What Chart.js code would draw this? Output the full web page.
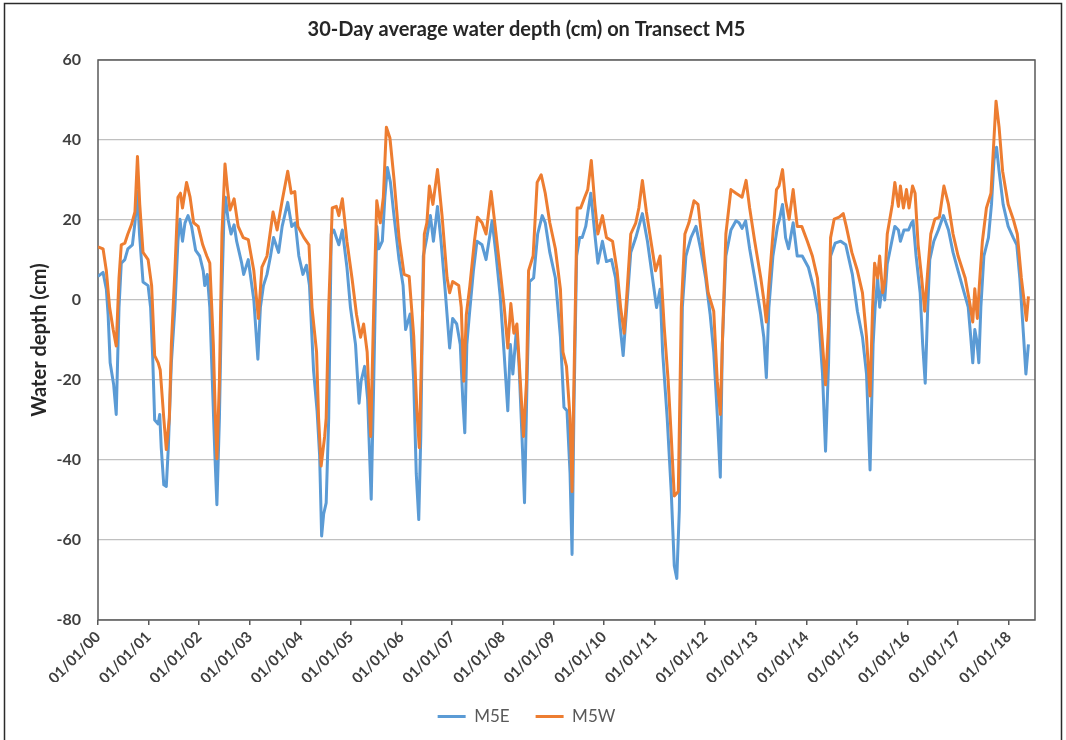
<!DOCTYPE html>
<html>
<head>
<meta charset="utf-8">
<title>30-Day average water depth on Transect M5</title>
<script src="https://cdn.jsdelivr.net/npm/chart.js@4.4.1/dist/chart.umd.min.js"></script>
<style>
  html, body { margin: 0; padding: 0; background: #fff; }
  #wrap { position: relative; width: 1066px; height: 740px; }
</style>
</head>
<body>
<div id="wrap"><canvas id="myChart" width="1066" height="740"></canvas></div>
<script>
// years since 01/01/2000
const tickLabels = ['01/01/00','01/01/01','01/01/02','01/01/03','01/01/04','01/01/05','01/01/06',
  '01/01/07','01/01/08','01/01/09','01/01/10','01/01/11','01/01/12','01/01/13','01/01/14',
  '01/01/15','01/01/16','01/01/17','01/01/18'];
const yTicks = [-80, -60, -40, -20, 0, 20, 40, 60];

const m5eYears = [0.00,0.10,0.165,0.20,0.24,0.31,0.36,0.415,0.46,0.53,0.59,0.68,0.73,0.78,0.82,0.89,0.99,
  1.04,1.08,1.12,1.19,1.22,1.25,1.30,1.35,1.39,1.45,1.52,1.58,1.62,1.67,1.72,1.78,1.85,1.93,
  2.01,2.08,2.11,2.16,2.21,2.26,2.31,2.35,2.40,2.44,2.49,2.52,2.57,2.63,2.69,2.74,2.84,2.88,2.97,
  3.08,3.16,3.21,3.27,3.34,3.41,3.47,3.57,3.64,3.75,3.83,3.90,3.97,
  4.05,4.12,4.18,4.26,4.33,4.38,4.42,4.46,4.51,4.56,4.61,4.66,4.76,4.83,4.92,4.99,
  5.09,5.16,5.20,5.27,5.33,5.40,5.45,5.51,5.55,5.62,5.67,5.72,5.78,5.85,5.95,
  6.03,6.08,6.17,6.24,6.29,6.34,6.38,6.43,6.50,6.57,6.63,6.71,6.78,6.86,6.95,
  7.01,7.09,7.16,7.21,7.25,7.29,7.34,7.42,7.49,7.59,7.67,7.79,7.87,7.95,
  8.03,8.10,8.15,8.20,8.27,8.32,8.38,8.43,8.48,8.53,8.61,8.69,8.78,8.84,8.93,
  9.04,9.14,9.21,9.27,9.33,9.37,9.41,9.46,9.52,9.57,9.64,9.74,9.82,9.88,9.97,
  10.05,10.15,10.23,10.32,10.38,10.45,10.53,10.63,10.76,10.86,10.96,
  11.04,11.11,11.16,11.25,11.33,11.39,11.44,11.49,11.55,11.62,11.72,11.82,11.91,
  12.01,12.10,12.17,12.24,12.30,12.34,12.41,12.51,12.61,12.67,12.73,12.80,12.88,12.98,
  13.10,13.16,13.21,13.26,13.34,13.43,13.47,13.53,13.59,13.65,13.74,13.82,13.92,
  14.04,14.15,14.24,14.32,14.38,14.44,14.48,14.57,14.68,14.78,14.91,
  15.01,15.11,15.19,15.26,15.32,15.36,15.41,15.45,15.51,15.55,15.60,15.69,15.75,15.82,15.86,15.93,
  16.02,16.08,16.11,16.17,16.25,16.30,16.35,16.40,16.44,16.52,16.61,16.71,16.81,16.90,
  17.00,17.10,17.20,17.25,17.29,17.33,17.37,17.41,17.45,17.51,17.60,17.66,17.71,17.76,17.81,17.89,17.99,
  18.09,18.16,18.22,18.29,18.34,18.39];
const m5eDepth = [5.9,6.9,2.7,-3.7,-15.7,-21.2,-28.6,-1.9,9.2,10.1,12.8,13.8,19.3,27.1,16.5,4.5,3.6,
  -1.9,-13.9,-30,-31,-28.6,-36.9,-46.2,-46.6,-36.9,-15.7,-1.9,14.7,20.2,14.7,19.3,21.1,18.4,12.4,
  11,7.3,3.6,6.4,-1.9,-20.3,-38.7,-51.2,-29.5,-1.9,21.1,25.7,20.2,16.5,18.8,14.7,9.2,6.4,10.1,
  0,-14.8,-1.8,3.6,6.4,11,15.6,11.9,18.4,24.4,18.4,19.3,11,
  6.4,8.7,3.6,-17.5,-27.7,-38.7,-59,-53.5,-50.7,-29.5,16.5,17.5,13.8,17.5,8.2,-1.9,
  -11.1,-25.8,-20.3,-16.6,-24.9,-49.8,-20.3,18.4,12.8,14.7,25.7,33.1,29.4,21.1,10.1,
  3.6,-7.4,-3.5,-20.3,-43.3,-54.9,-34.1,11,15.6,21.1,14.7,23.4,14.7,2.7,-12,
  -4.6,-6,-11.1,-24.9,-33.2,-11.1,-3.7,7.3,14.7,13.8,10.1,19.8,11,0.9,
  -13.9,-27.7,-11.1,-18.5,-7.4,-15.7,-34.1,-50.7,-20.3,4.6,5.5,16.5,21.1,19.3,11.9,
  5.5,-9.3,-26.8,-27.7,-43.3,-63.6,-25,11,15.6,15.6,18.4,26.7,16.5,9.2,14.7,
  9.6,10.1,5.5,-6.5,-13.9,-1.9,11.9,15.6,21.6,14.7,5.5,
  -1.9,2.7,-13,-29.5,-47.9,-66.4,-69.6,-52.5,-1.8,11,15.6,18.4,12.8,
  5.5,-3.7,-13,-28.6,-44.3,-11.1,11,17.5,19.8,19.3,17.9,19.8,12.8,5.5,
  -3.7,-9.3,-19.4,-1.9,11,18.4,20.2,23.9,15.6,12.8,19.3,11,11,
  8.2,2.7,-3.7,-18.5,-37.8,-15.7,11,14.2,14.7,13.8,6.4,
  -2.8,-9.3,-18.5,-42.5,-11.1,-1.8,5.5,-1.8,4.5,0,9,14.7,18.4,17.5,14.7,17.5,
  17.5,19.3,19.8,11,1.8,-11.1,-20.8,-1.8,10.1,14.7,17.5,21.1,17.5,11.9,
  7.3,2.7,-1.8,-9.3,-15.7,-7.4,-10.2,-15.7,-1.8,11,15.6,23.9,35,38.2,32.2,23.9,18.4,
  15.6,13.8,5.5,-8.3,-18.5,-11.1];

const m5wYears = [0.00,0.10,0.165,0.23,0.30,0.36,0.415,0.46,0.53,0.59,0.66,0.73,0.78,0.825,0.89,0.99,
  1.06,1.12,1.19,1.23,1.30,1.35,1.41,1.45,1.52,1.58,1.63,1.67,1.75,1.82,1.89,1.98,
  2.07,2.15,2.21,2.28,2.32,2.35,2.40,2.45,2.51,2.56,2.61,2.69,2.77,2.87,2.97,
  3.08,3.17,3.24,3.34,3.46,3.54,3.64,3.75,3.82,3.89,3.95,
  4.07,4.17,4.23,4.32,4.36,4.41,4.48,4.51,4.56,4.63,4.71,4.76,4.83,4.92,
  5.02,5.11,5.19,5.25,5.32,5.39,5.45,5.51,5.58,5.64,5.70,5.77,5.85,5.95,
  6.05,6.15,6.24,6.30,6.35,6.40,6.45,6.50,6.55,6.62,6.71,6.80,6.90,6.95,
  7.01,7.13,7.18,7.23,7.28,7.35,7.44,7.50,7.59,7.67,7.77,7.85,7.95,
  8.03,8.10,8.16,8.22,8.28,8.33,8.41,8.47,8.51,8.60,8.68,8.76,8.84,8.93,
  9.04,9.14,9.19,9.26,9.33,9.37,9.42,9.47,9.54,9.62,9.68,9.75,9.82,9.88,9.97,
  10.05,10.17,10.26,10.33,10.40,10.46,10.53,10.63,10.69,10.76,10.84,10.94,
  11.02,11.11,11.19,11.27,11.33,11.39,11.47,11.53,11.60,11.68,11.78,11.86,11.95,
  12.06,12.17,12.24,12.30,12.34,12.41,12.51,12.61,12.67,12.73,12.81,12.88,12.98,
  13.10,13.16,13.21,13.26,13.34,13.41,13.46,13.53,13.59,13.66,13.74,13.82,13.91,
  14.02,14.12,14.22,14.31,14.38,14.44,14.48,14.55,14.65,14.73,14.79,14.90,
  15.01,15.11,15.19,15.26,15.31,15.35,15.41,15.45,15.51,15.55,15.60,15.70,15.75,15.82,15.86,15.92,15.98,
  16.03,16.10,16.15,16.21,16.28,16.34,16.40,16.46,16.54,16.63,16.72,16.81,16.90,
  17.00,17.14,17.22,17.29,17.33,17.38,17.42,17.48,17.56,17.65,17.71,17.75,17.81,17.88,17.99,
  18.09,18.17,18.25,18.32,18.35,18.39];
const m5wDepth = [13.3,12.8,7.3,-1.9,-7.4,-11.5,5.5,13.8,14.2,16.5,18.8,22,35.9,23.9,11.9,10.1,
  3.6,-13.9,-15.7,-17.5,-29.5,-37.4,-29.5,-11.1,7.3,25.7,26.7,23,29.4,25.7,19.3,18.4,
  13.8,11,9.2,-11.1,-29.5,-39.7,-20.3,16.5,34,27.6,22.5,25.3,18.4,15.6,15.1,
  7.3,-4.6,8.2,11,22,17.5,24.8,32.2,26.7,27.1,18.4,
  15.6,13.8,-1.9,-13,-29.5,-41.5,-34.1,-29.5,-1.9,23,23.4,21.1,25.3,14.7,
  5.5,-3.7,-9.3,-6,-13,-34.1,-1.8,24.8,19.3,25.7,43.2,40.5,30.3,15.6,
  6.4,5.9,-9,-27,-36.9,-11.1,16.5,19.3,28.5,23.9,32.6,21.1,5.5,1.8,
  4.6,3.6,-1.9,-20.3,-3.7,3.6,14.7,20.7,19.3,16.5,27.1,18.4,7.3,
  -1.9,-12,-0.9,-8.3,-6,-16.6,-34.1,-20.3,7.3,11,29.4,31.3,26.7,19.3,
  12.8,2.7,-13,-16.6,-29.5,-47.9,-11.1,23,23,25.7,27.6,34.9,23.9,16.5,21.1,
  15.6,14.7,7.3,-1.9,-8.3,2.7,16.5,19.3,23,29.9,22,13.8,
  7.3,11,-6.5,-20.3,-34.1,-49,-47.9,-1.9,16.5,19.3,24.8,23.9,13.8,
  1.8,-2.8,-20.3,-28.6,-11.1,16.5,27.6,26.7,26.2,25.7,29.9,23,14.7,
  5.5,0,-5.5,3.6,16.5,27.6,28.5,32.6,24.8,20.2,27.6,18.4,18.4,
  14.7,11,5.5,-9.3,-21.2,-6.4,15.6,20.2,20.7,21.6,18.4,11.9,
  7.3,1.8,-9.3,-24,-1.8,9.2,5.5,11,1.8,4.6,16.5,23.9,29.4,23.4,28.5,23,27.6,
  23,28.5,26.7,13.8,5.5,-2.8,7.3,16.5,20.2,20.7,28.5,23.9,16.5,
  11,5.5,0,-5.5,2.8,-4.6,3.6,14.7,23,26.7,40.5,49.7,43.2,32.2,23.9,
  20.2,16.5,5.5,-1.8,-5.1,0.9];

const seriesNames = ['M5E', 'M5W'];
const seriesColors = ['#5B9BD5', '#ED7D31'];

function toPoints(xs, ys) {
    return xs.map(function (x, i) { return {x: x, y: ys[i]}; });
}

// plot-area box and outer chart frame
const frames = {
    id: 'frames',
    beforeDatasetsDraw(chart) {
        const ctx = chart.ctx;
        const a = chart.chartArea;
        ctx.save();
        ctx.strokeStyle = '#595959';
        ctx.lineWidth = 1.5;
        ctx.strokeRect(a.left, a.top, a.right - a.left, a.bottom - a.top);
        ctx.restore();
    },
    afterDraw(chart) {
        const ctx = chart.ctx;
        ctx.save();
        ctx.strokeStyle = '#2b2b2b';
        ctx.lineWidth = 1.5;
        ctx.beginPath();
        ctx.moveTo(4.5, 745);
        ctx.lineTo(4.5, 3.5);
        ctx.lineTo(1061.5, 3.5);
        ctx.lineTo(1061.5, 745);
        ctx.stroke();
        ctx.restore();
    }
};

function displayChart() {
    let myChart = document.getElementById('myChart').getContext('2d');
    let lineChart = new Chart(myChart, {
        type: 'line',
        data: {
            datasets: [{
                label: seriesNames[0],
                data: toPoints(m5eYears, m5eDepth),
                borderColor: seriesColors[0],
                backgroundColor: seriesColors[0],
                borderWidth: 3,
                pointRadius: 0,
                tension: 0,
                borderJoinStyle: 'round',
                order: 2
            }, {
                label: seriesNames[1],
                data: toPoints(m5wYears, m5wDepth),
                borderColor: seriesColors[1],
                backgroundColor: seriesColors[1],
                borderWidth: 3,
                pointRadius: 0,
                tension: 0,
                borderJoinStyle: 'round',
                order: 1
            }]
        },
        options: {
            responsive: false,
            animation: false,
            events: [],
            layout: { padding: { left: 18, right: 31, top: 0, bottom: 5 } },
            plugins: {
                title: {
                    display: true,
                    text: '30-Day average water depth (cm) on Transect M5',
                    color: '#262626',
                    font: { family: 'Lato', size: 20, weight: 'bold' },
                    padding: { top: 18, bottom: 18 }
                },
                legend: {
                    display: true,
                    position: 'bottom',
                    labels: {
                        usePointStyle: true,
                        pointStyle: 'line',
                        pointStyleWidth: 28,
                        padding: 26,
                        color: '#595959',
                        font: { family: 'Lato', size: 17 },
                        sort: function (a, b) { return a.datasetIndex - b.datasetIndex; }
                    }
                },
                tooltip: { enabled: false }
            },
            scales: {
                x: {
                    type: 'linear',
                    min: 0,
                    max: 18.52,
                    afterFit: function (s) { s.height = 62; },
                    afterBuildTicks: function (s) {
                        s.ticks = s.ticks.filter(function (t) { return Number.isInteger(t.value); });
                    },
                    border: { display: false },
                    grid: { drawOnChartArea: false, drawTicks: true, tickLength: 5, tickColor: '#595959', lineWidth: 1.5 },
                    ticks: {
                        stepSize: 1,
                        autoSkip: false,
                        minRotation: 45,
                        maxRotation: 45,
                        padding: 3,
                        color: '#404040',
                        font: { family: 'Lato', size: 15, weight: 'bold' },
                        callback: function (v) { return tickLabels[v]; }
                    }
                },
                y: {
                    min: yTicks[0],
                    max: yTicks[yTicks.length - 1],
                    afterFit: function (s) { s.width = 80; },
                    border: { display: false },
                    grid: { color: '#c0c0c0', lineWidth: 1.2, drawTicks: false },
                    ticks: {
                        stepSize: 20,
                        padding: 17,
                        color: '#404040',
                        font: { family: 'Lato', size: 16, weight: 'bold' }
                    },
                    title: {
                        display: true,
                        text: 'Water depth (cm)',
                        color: '#262626',
                        font: { family: 'Lato', size: 20, weight: 'bold' },
                        padding: { top: 10, bottom: 0 }
                    }
                }
            }
        },
        plugins: [frames]
    });
}

displayChart();
</script>
</body>
</html>
